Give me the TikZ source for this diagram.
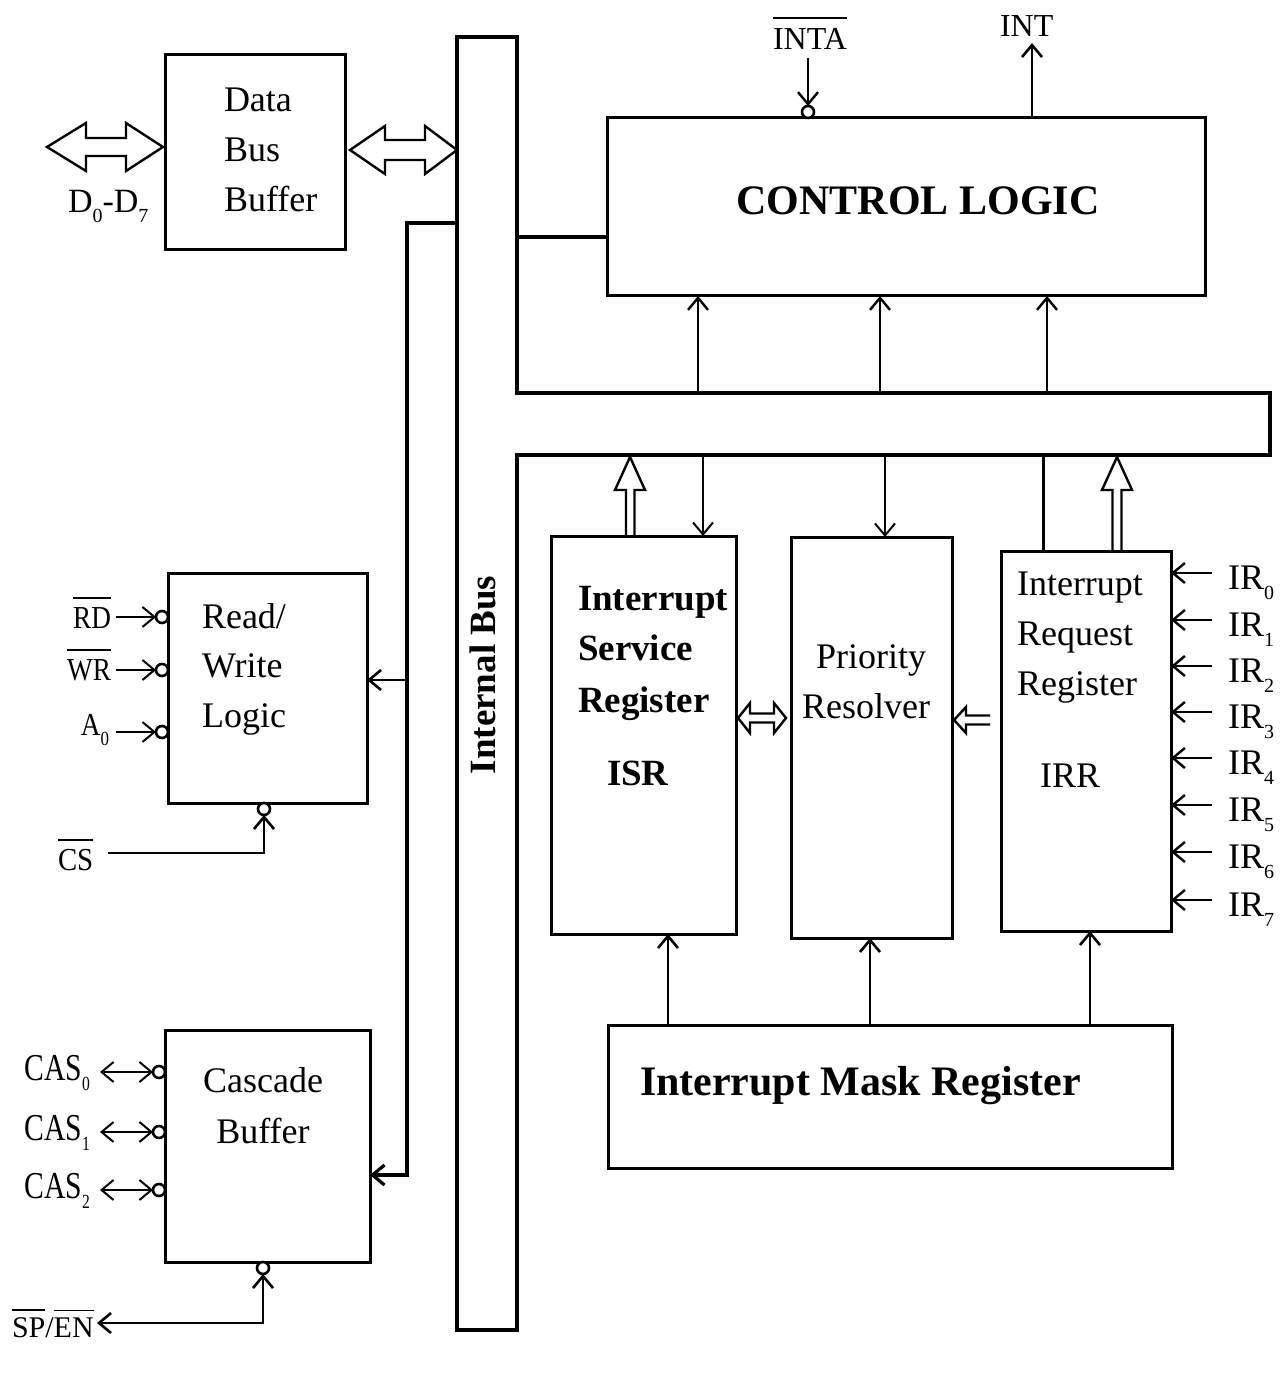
\documentclass[tikz,border=0pt]{standalone}
\usepackage{fontspec}
\setmainfont{Liberation Serif}
\usetikzlibrary{arrows.meta,calc}
\newcommand\ovl[2][3pt]{\vbox{\hrule height 0.9pt\kern#1\hbox{#2}}}
\newcommand\fs[1]{\fontsize{#1}{#1}\selectfont}
\newcommand\sq[2]{\scalebox{#1}[1]{#2}}
\newcommand\sbs[1]{\raisebox{-5pt}{\fs{10}#1}}
\begin{document}
\begin{tikzpicture}[x=0.5pt,y=-0.5pt,
 blk/.style={draw,line width=1.5pt,inner sep=0pt,outer sep=0pt},
 tx/.style={inner sep=0pt,outer sep=0pt,font=\fs{18}},
 txb/.style={inner sep=0pt,outer sep=0pt,font=\fs{18.5}\bfseries},
 lab/.style={inner sep=0pt,outer sep=0pt,font=\fs{16}},
 arr/.style={line width=1pt,-{Straight Barb[length=6pt,width=10pt]}},
 dar/.style={line width=1pt,{Straight Barb[length=6pt,width=10pt]}-{Straight Barb[length=6pt,width=10pt]}},
 bub/.style={circle,draw,line width=1.3pt,minimum size=6pt,inner sep=0pt,outer sep=0pt,fill=white},
 hol/.style={line width=1.2pt,line join=miter},
 bus/.style={line width=1.6pt}
]
\fill[white] (0,0) rectangle (1287,1384);
\useasboundingbox (0,0) rectangle (1287,1384);

% blocks
\node[blk,minimum width=90pt,minimum height=97.5pt] (dbb) at (255,152.5) {};
\node[blk,minimum width=299pt,minimum height=89pt] (ctrl) at (906,207) {};
\node[blk,minimum width=99.5pt,minimum height=115pt] (rwl) at (267.5,688) {};
\node[blk,minimum width=102.5pt,minimum height=116pt] (cas) at (267.5,1146) {};
\node[blk,minimum width=92.5pt,minimum height=199pt] (isr) at (643.5,735) {};
\node[blk,minimum width=80.5pt,minimum height=200.5pt] (pr) at (871.5,737.5) {};
\node[blk,minimum width=85pt,minimum height=190pt] (irr) at (1086,741) {};
\node[blk,minimum width=282pt,minimum height=71.5pt] (imr) at (890,1096.5) {};

% block texts
\node[tx,anchor=base west] (dbb1) at (224,112) {Data};
\node[tx,anchor=base west] (dbb2) at (224,162) {Bus};
\node[tx,anchor=base west] (dbb3) at (224,212) {Buffer};
\node[tx,anchor=base west] (rwl1) at (202,628) {Read/};
\node[tx,anchor=base west] (rwl2) at (202,677) {Write};
\node[tx,anchor=base west] (rwl3) at (202,727) {Logic};
\node[tx,anchor=base] (cas1) at (263,1092) {Cascade};
\node[tx,anchor=base] (cas2) at (263,1143) {Buffer};
\node[txb,font=\fs{21}\bfseries,anchor=base] (ctrlt) at (918,215) {CONTROL LOGIC};
\node[txb,anchor=base west] (isr1) at (578,610) {Interrupt};
\node[txb,anchor=base west] (isr2) at (578,660) {Service};
\node[txb,anchor=base west] (isr3) at (578,712) {Register};
\node[txb,anchor=base west] (isr4) at (607,785) {ISR};
\node[tx,anchor=base] (pr1) at (871,668) {Priority};
\node[tx,anchor=base] (pr2) at (866,718) {Resolver};
\node[tx,anchor=base west] (irr1) at (1017,595) {Interrupt};
\node[tx,anchor=base west] (irr2) at (1017,645) {Request};
\node[tx,anchor=base west] (irr3) at (1017,695) {Register};
\node[tx,anchor=base west] (irr4) at (1040,787) {IRR};
\node[txb,font=\fs{21}\bfseries,anchor=base west] (imrt) at (640,1095) {Interrupt Mask Register};

% internal bus
\draw[bus] (517,393) -- (517,37) -- (457,37) -- (457,1330) -- (517,1330) -- (517,455) -- (1270,455) -- (1270,393) -- cycle;
\node[txb,rotate=90,anchor=base] (ibus) at (495,675) {Internal Bus};
\draw[bus] (517,237) -- (ctrl.west |- 0,237);
\draw[arr,bus] (457,223) -| (407,1175) -- (cas.east |- 0,1175);
\draw[arr,line width=1.3pt] (407,680) -- (rwl.east |- 0,680);

% control logic arrows
\foreach \x in {698,880,1047} \draw[arr,line width=1.2pt] (\x,393) -- (ctrl.south -| \x,0);
\node[lab,anchor=base west] (inta) at (773,50) {\ovl[5pt]{INTA}};
\node[bub,anchor=south] (intab) at (ctrl.north -| 808,0) {};
\draw[arr,line width=1.2pt] (808,58) -- (intab.north);
\node[lab,anchor=base west] (int) at (1000,37) {INT};
\draw[arr,line width=1.3pt] (ctrl.north -| 1032,0) -- (1032,43);

% data bus hollow arrows
\draw[hol] (47,147) -- (86,123) -- (86,138) -- (126,138) -- (126,123) -- (163,147) -- (126,171) -- (126,156) -- (86,156) -- (86,171) -- cycle;
\draw[hol] (350,150) -- (385,126) -- (385,140) -- (425,140) -- (425,126) -- (457,150) -- (425,174) -- (425,160) -- (385,160) -- (385,174) -- cycle;
\node[lab,font=\fs{17},anchor=base west] (dd) at (68,213) {D\sbs{0}-D\sbs{7}};

% read/write inputs
\node[bub,anchor=east] (rdb) at (rwl.west |- 0,617) {};
\draw[arr] (116,617) -- (rdb.west);
\node[lab,anchor=base east] (rd) at (111,628) {\sq{0.85}{\ovl[4pt]{RD}}};
\node[bub,anchor=east] (wrb) at (rwl.west |- 0,670) {};
\draw[arr] (116,670) -- (wrb.west);
\node[lab,anchor=base east] (wr) at (111,680) {\sq{0.85}{\ovl[4pt]{WR}}};
\node[bub,anchor=east] (a0b) at (rwl.west |- 0,732) {};
\draw[arr] (116,732) -- (a0b.west);
\node[lab,anchor=base east] (a0) at (109,735) {\sq{0.85}{A\sbs{0}}};
\node[bub,anchor=north] (csb) at (rwl.south -| 264,0) {};
\node[lab,anchor=base west] (cs) at (58,870) {\sq{0.9}{\ovl[4pt]{CS}}};
\draw[arr,line width=1.3pt] (108,853) -| (csb.south);

% cascade
\foreach \i/\y in {0/1072,1/1132,2/1190} {
  \node[bub,anchor=east] (casb\i) at (cas.west |- 0,\y) {};
  \draw[dar] (100,\y) -- (casb\i.west);
  \node[lab,font=\fs{19},anchor=base east] (casl\i) at (90,{\y+8}) {\sq{0.78}{CAS\sbs{\i}}};
}
\node[bub,anchor=north] (spb) at (cas.south -| 263,0) {};
\node[lab,font=\fs{15},anchor=base west] (sp) at (12,1337) {\ovl[3pt]{SP}/\ovl[3pt]{EN}};
\draw[dar,line width=1.3pt] (97,1323) -| (spb.south);

% bus to registers
\draw[hol] (626,535) -- (626,490) -- (615,490) -- (630,457) -- (645,490) -- (634.5,490) -- (634.5,535);
\draw[arr] (703,455) -- (isr.north -| 703,0);
\draw[arr] (885,455) -- (pr.north -| 885,0);
\draw[line width=1.5pt] (1043,455) -- (irr.north -| 1043,0);
\draw[hol] (1112.5,550) -- (1112.5,490) -- (1102,490) -- (1117,457) -- (1132,490) -- (1121.5,490) -- (1121.5,550);

% between registers
\draw[hol] (738,718) -- (750,703) -- (750,713.5) -- (774,713.5) -- (774,703) -- (786,718) -- (774,733) -- (774,722.5) -- (750,722.5) -- (750,733) -- cycle;
\draw[hol] (990,715.5) -- (966,715.5) -- (966,707) -- (954,720) -- (966,733) -- (966,724.5) -- (990,724.5);

% IR inputs
\foreach \i/\y in {0/573,1/620,2/666,3/712,4/758,5/805,6/852,7/900} {
  \draw[arr,line width=1.2pt] (1212,\y) -- (irr.east |- 0,\y);
  \node[lab,font=\fs{18},anchor=base west] (ir\i) at (1228,{\y+16}) {IR\sbs{\i}};
}

% mask register arrows
\draw[arr,line width=1.3pt] (imr.north -| 668,0) -- (isr.south -| 668,0);
\draw[arr,line width=1.3pt] (imr.north -| 870,0) -- (pr.south -| 870,0);
\draw[arr,line width=1.3pt] (imr.north -| 1090,0) -- (irr.south -| 1090,0);
\end{tikzpicture}
\end{document}
